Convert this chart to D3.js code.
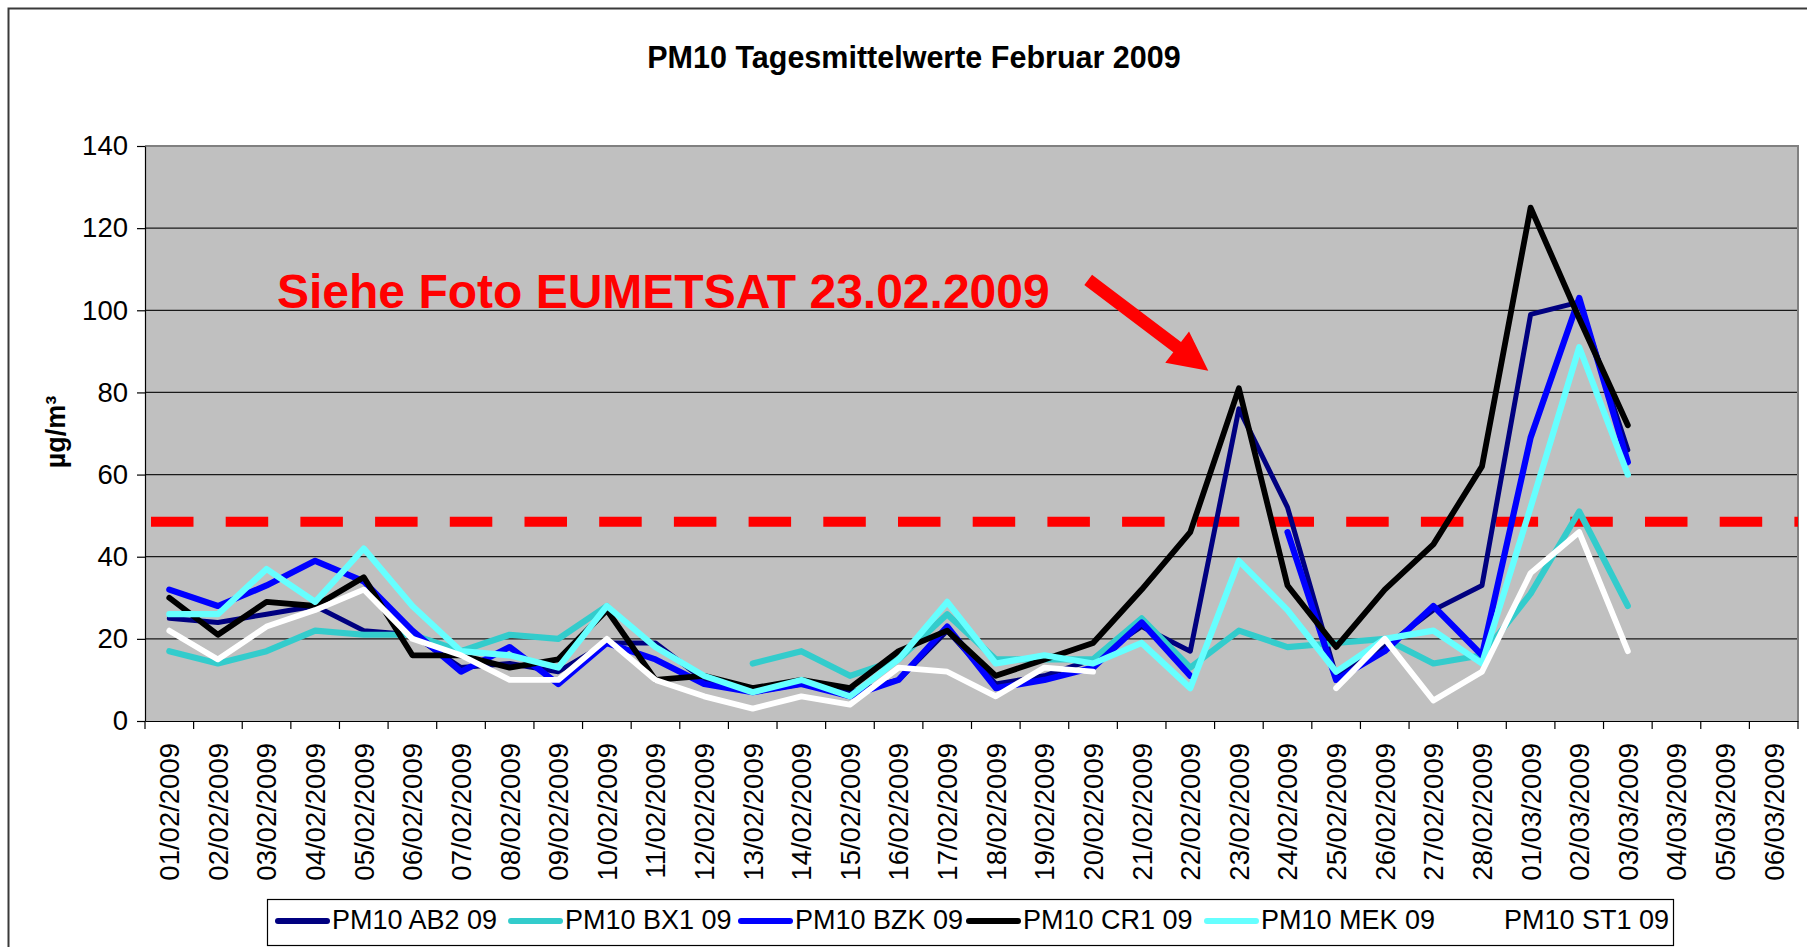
<!DOCTYPE html>
<html><head><meta charset="utf-8">
<script src="https://cdn.jsdelivr.net/npm/d3@7"></script>
<style>
body{margin:0;background:#fff;}
svg{display:block;}
text{font-family:"Liberation Sans",Arial,sans-serif;}
</style>
</head><body>
<svg id="chart" width="1807" height="947"></svg>
<script>
// ---------- DATA ----------
const categories = ["01/02/2009","02/02/2009","03/02/2009","04/02/2009","05/02/2009","06/02/2009","07/02/2009","08/02/2009","09/02/2009","10/02/2009","11/02/2009","12/02/2009","13/02/2009","14/02/2009","15/02/2009","16/02/2009","17/02/2009","18/02/2009","19/02/2009","20/02/2009","21/02/2009","22/02/2009","23/02/2009","24/02/2009","25/02/2009","26/02/2009","27/02/2009","28/02/2009","01/03/2009","02/03/2009","03/03/2009","04/03/2009","05/03/2009","06/03/2009"];
const yTicks = [0,20,40,60,80,100,120,140];
const seriesNames = ["PM10 AB2 09","PM10 BX1 09","PM10 BZK 09","PM10 CR1 09","PM10 MEK 09","PM10 ST1 09"];
const seriesColors = ["#000080","#33cccc","#0000ff","#000000","#66ffff","#ffffff"];
const ab2 = [25,24,26,28,22,21,13,14,12,19,19,10,7,9,7,10,22,9,11,15,23,17,76,52,11,18,27,33,99,102,66,null,null,null];
const bx1 = [17,14,17,22,21,21,17,21,20,28,null,null,14,17,11,15,26,15,15,15,25,13,22,18,19,20,14,16,31,51,28,null,null,null];
const bzk = [32,28,33,39,34,22,12,18,9,19,15,9,7,9,6,10,23,8,10,13,24,11,null,46,10,17,28,16,69,103,63,null,null,null];
const cr1 = [30,21,29,28,35,16,16,13,15,27,10,11,8,10,8,17,22,11,15,19,32,46,81,33,18,32,43,62,125,98,72,null,null,null];
const mek = [26,26,37,29,42,28,17,16,13,28,18,11,7,10,6,15,29,14,16,14,19,8,39,27,12,20,22,14,52,91,60,null,null,null];
const st1 = [22,15,23,27,32,20,16,10,10,20,10,6,3,6,4,13,12,6,13,12,null,null,null,null,8,20,5,12,36,46,17,null,null,null];
const limitValue = 48.5;
const titleText = "PM10 Tagesmittelwerte Februar 2009";
const yTitleText = "µg/m³";
const noteText = "Siehe Foto EUMETSAT 23.02.2009";

// ---------- LAYOUT ----------
const svg = d3.select("#chart");
const L = 145, R = 1798, T = 146, B = 721;
const x = d3.scaleBand().domain(categories).range([L, R]).padding(0);
const xi = d3.scaleLinear().domain([0, categories.length]).range([L, R]);
const y = d3.scaleLinear().domain([0, 140]).range([B, T]);
const font = '"Liberation Sans", Arial, sans-serif';

// outer chart border
svg.append("rect").attr("x", 8.5).attr("y", 8.5).attr("width", 1900).attr("height", 1000)
  .attr("fill", "#fff").attr("stroke", "#3a3a3a").attr("stroke-width", 2);

// title
svg.append("text").attr("x", 914).attr("y", 68).attr("text-anchor", "middle")
  .attr("font-size", 30.5).attr("font-weight", "bold").attr("fill", "#000").text(titleText);

// plot background
svg.append("rect").attr("x", L).attr("y", T).attr("width", R - L).attr("height", B - T).attr("fill", "#c0c0c0");

// gridlines
svg.append("g").selectAll("line").data(yTicks.filter(v => v > 0 && v < 140)).join("line")
  .attr("x1", L).attr("x2", R).attr("y1", d => y(d)).attr("y2", d => y(d))
  .attr("stroke", "#1a1a1a").attr("stroke-width", 1.2);

// plot border top/right gray
svg.append("path").attr("d", `M${L},${T}H${R}V${B}`).attr("fill", "none")
  .attr("stroke", "#808080").attr("stroke-width", 2);

// y axis
const yAxis = svg.append("g").attr("transform", `translate(${L},0)`)
  .call(d3.axisLeft(y).tickValues(yTicks).tickSize(8).tickSizeOuter(0).tickPadding(9).tickFormat(d3.format("d")));
yAxis.selectAll("text").attr("font-size", 27.5).attr("font-family", font).attr("fill", "#000");
yAxis.selectAll("line,path").attr("stroke", "#000").attr("stroke-width", 1.2);

// x axis labels
const xAxis = svg.append("g").attr("transform", `translate(0,${B})`)
  .call(d3.axisBottom(x).tickSize(0).tickSizeOuter(0));
xAxis.selectAll("text").attr("font-size", 27.5).attr("font-family", font).attr("fill", "#000")
  .attr("transform", "rotate(-90)").attr("text-anchor", "end")
  .attr("x", -22).attr("y", 0).attr("dy", "0.36em");
xAxis.select("path.domain").attr("stroke", "#000").attr("stroke-width", 1.2);
// boundary ticks
svg.append("g").selectAll("line").data(d3.range(categories.length + 1)).join("line")
  .attr("x1", d => xi(d)).attr("x2", d => xi(d)).attr("y1", B).attr("y2", B + 8)
  .attr("stroke", "#000").attr("stroke-width", 1.2);

// y axis title
svg.append("text").attr("transform", `translate(56,432) rotate(-90)`).attr("text-anchor", "middle")
  .attr("dy", "0.35em").attr("font-size", 27).attr("font-weight", "bold").text(yTitleText);

// limit line
svg.append("line").attr("x1", L + 6).attr("x2", R).attr("y1", y(limitValue)).attr("y2", y(limitValue))
  .attr("stroke", "#ff0000").attr("stroke-width", 10).attr("stroke-dasharray", "42.5,32.2");

// series
const seriesData = [ab2, bx1, bzk, cr1, mek, st1];
const widths = [5, 6.2, 6.2, 5.8, 6.2, 5.8];
const line = d3.line().defined(d => d.v != null)
  .x(d => x(d.c) + x.bandwidth() / 2).y(d => y(d.v));
svg.append("g").selectAll("path").data(seriesData).join("path")
  .attr("d", s => line(s.map((v, i) => ({c: categories[i], v}))))
  .attr("fill", "none").attr("stroke", (s, i) => seriesColors[i]).attr("stroke-width", (s, i) => widths[i])
  .attr("stroke-linejoin", "round").attr("stroke-linecap", "round");

// annotation text
svg.append("text").attr("x", xi(2.715)).attr("y", y(100.6)).attr("font-size", 48).attr("font-weight", "bold")
  .attr("fill", "#ff0000").text(noteText);

// arrow
(function () {
  const S = [xi(19.40), y(107.4)], Tp = [xi(21.87), y(85.3)];
  const dx = Tp[0] - S[0], dy = Tp[1] - S[1], len = Math.hypot(dx, dy);
  const u = [dx / len, dy / len], n = [-u[1], u[0]];
  const hl = 39, hh = 19.7, sw = 6.4;
  const Bp = [Tp[0] - u[0] * hl, Tp[1] - u[1] * hl];
  const pts = [
    [S[0] + n[0] * sw, S[1] + n[1] * sw], [Bp[0] + n[0] * sw, Bp[1] + n[1] * sw],
    [Bp[0] + n[0] * hh, Bp[1] + n[1] * hh], Tp,
    [Bp[0] - n[0] * hh, Bp[1] - n[1] * hh], [Bp[0] - n[0] * sw, Bp[1] - n[1] * sw],
    [S[0] - n[0] * sw, S[1] - n[1] * sw]];
  svg.append("path").attr("d", d3.line()(pts) + "Z").attr("fill", "#ff0000");
})();

// legend
const lg = svg.append("g");
lg.append("rect").attr("x", 267.5).attr("y", 899.5).attr("width", 1406).attr("height", 46)
  .attr("fill", "#fff").attr("stroke", "#000").attr("stroke-width", 1.2);
const legendX = [275, 508, 738, 966, 1204, 1447];
const items = lg.selectAll("g.item").data(seriesNames).join("g").attr("class", "item")
  .attr("transform", (d, i) => `translate(${legendX[i]},0)`);
items.append("line").attr("x1", 3).attr("x2", 52).attr("y1", 921).attr("y2", 921)
  .attr("stroke", (d, i) => seriesColors[i]).attr("stroke-width", 6).attr("stroke-linecap", "round");
items.append("text").attr("x", 57).attr("y", 929).attr("font-size", 27).attr("fill", "#000").text(d => d);
</script>
</body></html>
